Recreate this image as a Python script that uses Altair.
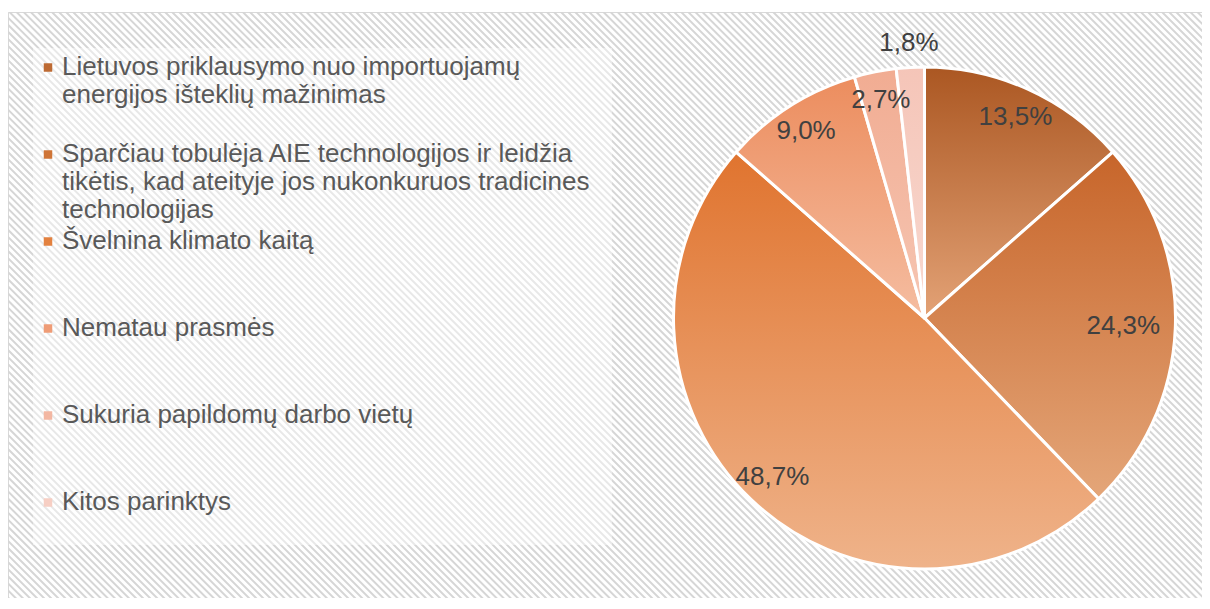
import altair as alt
import pandas as pd

# ---------------- data ----------------
categories = [
    "Lietuvos priklausymo nuo importuojamų\nenergijos išteklių mažinimas",
    "Sparčiau tobulėja AIE technologijos ir leidžia\ntikėtis, kad ateityje jos nukonkuruos tradicines\ntechnologijas",
    "Švelnina klimato kaitą",
    "Nematau prasmės",
    "Sukuria papildomų darbo vietų",
    "Kitos parinktys",
]
values = [13.5, 24.3, 48.7, 9.0, 2.7, 1.8]

# ---------------- styles ----------------
top_colors = ["#ab5722", "#c7652a", "#e0742f", "#ec8d5e", "#f1ac92", "#f5c5b8"]
bottom_colors = ["#e3a276", "#e4a679", "#efb38a", "#f5bda1", "#f6c6b3", "#f8d9d0"]
legend_colors = ["#bd6a33", "#cf7436", "#e3813f", "#ef9c76", "#f3b7a2", "#f7cfc4"]
label_radius = [221, 199, 220, 221, 222, 275]

FONT = "Liberation Sans"
W, H = 1194, 586
CX, CY, R = 916.5, 306, 251

vals = pd.Series(values)
ends = vals.cumsum()
df = pd.DataFrame({
    "category": categories,
    "value": values,
    "order": list(range(len(values))),
    "end": ends,
    "start": ends - vals,
})
df["mid"] = (df["start"] + df["end"]) / 2

theta_scale = alt.Scale(domain=[0, 100], nice=False, zero=False)
leg_scale = alt.Scale(domain=[0, 5], range=[55.5, 490.5], nice=False, zero=False)

# background hatch (decoration)
hatch = alt.Chart(alt.Data(values=[{}])).mark_rule(
    stroke="#d6d6d6", strokeWidth=1400, strokeDash=[2, 3], strokeCap="butt", clip=True
).encode(
    x=alt.value(W / 2 - 700), y=alt.value(H / 2 + 700),
    x2=alt.value(W / 2 + 700), y2=alt.value(H / 2 - 700),
)

legend_box = alt.Chart(alt.Data(values=[{}])).mark_rect(
    fill="white", opacity=0.45
).encode(x=alt.value(25), x2=alt.value(604), y=alt.value(36), y2=alt.value(533))

layers = [hatch, legend_box]

for i in range(len(values)):
    grad = {
        "gradient": "linear", "x1": 0, "y1": 0, "x2": 0, "y2": 1,
        "stops": [{"offset": 0, "color": top_colors[i]},
                  {"offset": 1, "color": bottom_colors[i]}],
    }
    arc = alt.Chart(df).transform_filter(f"datum.order == {i}").mark_arc(
        radius=R, stroke="white", strokeWidth=3, strokeJoin="round"
    ).encode(
        theta=alt.Theta("start:Q", scale=theta_scale),
        theta2="end:Q",
        x=alt.value(CX), y=alt.value(CY),
        fill=alt.value(grad),
    )
    layers.append(arc)

for i in range(len(values)):
    lab = alt.Chart(df).transform_filter(f"datum.order == {i}").transform_calculate(
        label="replace(format(datum.value, '.1f'), '.', ',') + '%'"
    ).mark_text(
        font=FONT, fontSize=26, color="#404040", align="center", baseline="middle"
    ).encode(
        theta=alt.Theta("mid:Q", scale=theta_scale),
        radius=alt.value(label_radius[i]),
        x=alt.value(CX), y=alt.value(CY),
        text="label:N",
    )
    layers.append(lab)

leg_sq = alt.Chart(df).mark_square(size=72, opacity=1).encode(
    x=alt.value(40),
    y=alt.Y("order:Q", scale=leg_scale, axis=None),
    color=alt.Color("category:N", scale=alt.Scale(domain=categories, range=legend_colors), legend=None),
)
leg_txt = alt.Chart(df).mark_text(
    font=FONT, fontSize=26, color="#595959", align="left", baseline="top",
    dy=-13.5, lineBreak="\n", lineHeight=28,
).encode(
    x=alt.value(54),
    y=alt.Y("order:Q", scale=leg_scale, axis=None),
    text="category:N",
)
layers += [leg_sq, leg_txt]

chart = alt.layer(*layers).properties(
    width=W, height=H,
    autosize=alt.AutoSizeParams(type="none"),
    padding={"left": 0, "top": 4, "right": 0, "bottom": 0},
    background="white",
).configure_view(stroke="#d9d9d9", strokeWidth=1)

chart.save("out.html", embed_options={"renderer": "svg", "actions": False})
